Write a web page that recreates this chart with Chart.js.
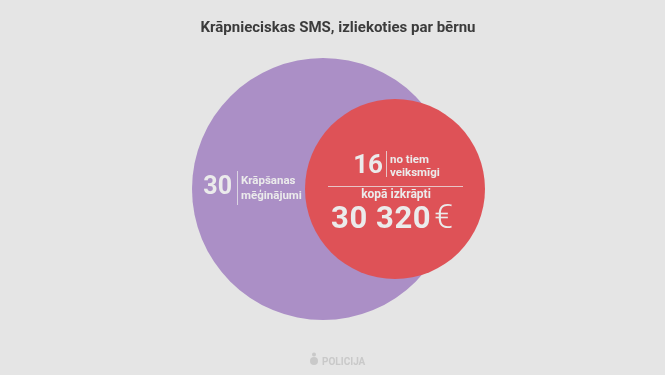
<!DOCTYPE html>
<html>
<head>
<meta charset="utf-8">
<script src="https://cdn.jsdelivr.net/npm/chart.js@4"></script>
<style>
  body { margin: 0; background: #e5e5e5; }
  #wrap { width: 665px; height: 375px; position: relative; }
</style>
</head>
<body>
<div id="wrap"><canvas id="venn"></canvas></div>
<script>
const title = "Krāpnieciskas SMS, izliekoties par bērnu";
const categories = ["Krāpšanas mēģinājumi", "no tiem veiksmīgi"];
const counts = [30, 16];
const stolenTotal = "30 320";
const stolenLabel = "kopā izkrāpti";

const colors = ["#ab8fc6", "#de5257"];
const radii = [131, 90];
const textColor = "#ebebeb";
const font = "Roboto, 'Open Sans', sans-serif";

const labelsPlugin = {
  id: "vennLabels",
  afterDatasetsDraw(chart) {
    const ctx = chart.ctx;
    const pts = chart.getDatasetMeta(0).data;
    const big = pts[0], small = pts[1];

    ctx.save();
    // title
    ctx.fillStyle = "#3b3b3b";
    ctx.font = "bold 15px " + font;
    ctx.textAlign = "center";
    ctx.textBaseline = "alphabetic";
    ctx.fillText(title, 338, 32);

    // big circle label
    const [w1, w2] = categories[0].split(" ");
    ctx.fillStyle = textColor;
    ctx.font = "bold 25px " + font;
    ctx.textAlign = "right";
    ctx.fillText(String(counts[0]), big.x - 91, big.y + 5);
    ctx.font = "bold 11.5px " + font;
    ctx.textAlign = "left";
    ctx.fillText(w1, big.x - 82, big.y - 5);
    ctx.fillText(w2, big.x - 82, big.y + 10);
    ctx.strokeStyle = "rgba(235,235,235,0.75)";
    ctx.lineWidth = 1;
    ctx.beginPath();
    ctx.moveTo(big.x - 85.5, big.y - 18);
    ctx.lineTo(big.x - 85.5, big.y + 16);
    ctx.stroke();

    // small circle label
    const s = categories[1].split(" ");
    ctx.font = "bold 26px " + font;
    ctx.textAlign = "right";
    ctx.fillText(String(counts[1]), small.x - 12, small.y - 16);
    ctx.font = "bold 11.5px " + font;
    ctx.textAlign = "left";
    ctx.fillText(s[0] + " " + s[1], small.x - 5, small.y - 26);
    ctx.fillText(s[2], small.x - 5, small.y - 13);
    ctx.beginPath();
    ctx.moveTo(small.x - 8.5, small.y - 38);
    ctx.lineTo(small.x - 8.5, small.y - 12);
    ctx.moveTo(small.x - 67, small.y - 2.5);
    ctx.lineTo(small.x + 68, small.y - 2.5);
    ctx.stroke();

    ctx.font = "bold 12px " + font;
    ctx.textAlign = "center";
    ctx.fillText(stolenLabel, small.x + 1, small.y + 9);

    ctx.textAlign = "left";
    ctx.font = "bold 31px " + font;
    ctx.letterSpacing = "0.6px";
    const numW = ctx.measureText(stolenTotal).width;
    const x0 = small.x - 64;
    ctx.fillText(stolenTotal, x0, small.y + 39);
    ctx.letterSpacing = "0px";
    ctx.font = "300 34px " + font;
    ctx.fillText("€", x0 + numW + 3, small.y + 39);

    // footer logo
    ctx.fillStyle = "#c9c9c9";
    ctx.beginPath();
    ctx.arc(314, 361, 4, 0, Math.PI * 2);
    ctx.fill();
    ctx.beginPath();
    ctx.arc(314, 354.5, 2, 0, Math.PI * 2);
    ctx.fill();
    ctx.font = "bold 10px " + font;
    ctx.textAlign = "left";
    ctx.fillText("POLICIJA", 322, 365);
    ctx.restore();
  }
};

new Chart(document.getElementById("venn"), {
  type: "bubble",
  data: {
    labels: categories,
    datasets: [{
      data: counts.map((v, i) => ({ x: i, y: 0, r: radii[i], v: v })),
      backgroundColor: colors,
      borderWidth: 0,
      clip: false,
    }],
  },
  options: {
    responsive: true,
    maintainAspectRatio: false,
    animation: false,
    events: [],
    layout: { padding: 0, autoPadding: false },
    plugins: { legend: { display: false }, tooltip: { enabled: false } },
    scales: {
      x: { display: false, min: -323 / 72, max: 342 / 72 },
      y: { display: false, min: -0.984, max: 1 },
    },
  },
  plugins: [labelsPlugin],
});
</script>
</body>
</html>
